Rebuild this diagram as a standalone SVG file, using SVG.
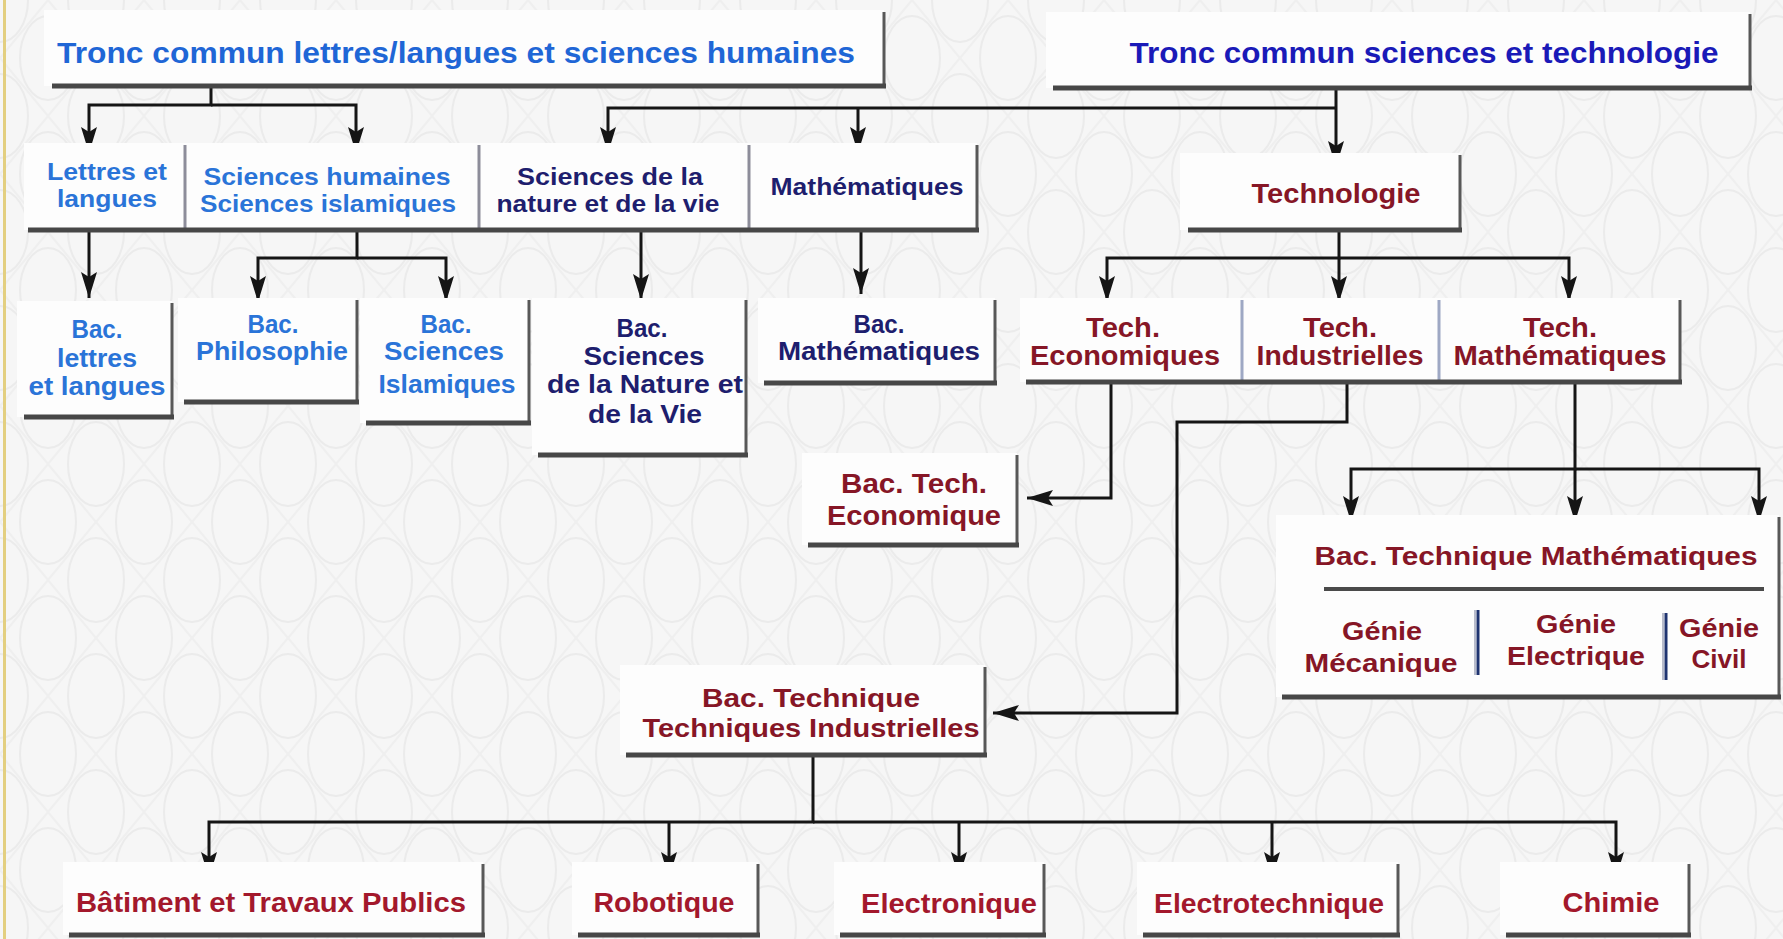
<svg xmlns="http://www.w3.org/2000/svg" width="1783" height="939" viewBox="0 0 1783 939">
<defs>
<pattern id="bg" width="96" height="116" patternUnits="userSpaceOnUse">
<rect width="96" height="116" fill="#f6f6f6"/>
<ellipse cx="48" cy="58" rx="28" ry="42" fill="none" stroke="#ebebeb" stroke-width="2"/>
<ellipse cx="0" cy="0" rx="28" ry="42" fill="none" stroke="#ebebeb" stroke-width="2"/>
<ellipse cx="96" cy="0" rx="28" ry="42" fill="none" stroke="#ebebeb" stroke-width="2"/>
<ellipse cx="0" cy="116" rx="28" ry="42" fill="none" stroke="#ebebeb" stroke-width="2"/>
<ellipse cx="96" cy="116" rx="28" ry="42" fill="none" stroke="#ebebeb" stroke-width="2"/>
<path d="M0 58 L48 0 L96 58 L48 116 Z" fill="none" stroke="#efefef" stroke-width="2"/>
</pattern>
<marker id="ah" markerUnits="userSpaceOnUse" markerWidth="28" markerHeight="16" refX="26" refY="8" orient="auto">
<path d="M0,0 L26,8 L0,16 L5,8 z" fill="#151515"/>
</marker>
</defs>
<style>
.bx{fill:#fdfdfd}
.sr{stroke:#585858;stroke-width:3;fill:none}
.sb{stroke:#474747;stroke-width:5;fill:none}
.dv{stroke:#8d8d9a;stroke-width:3}
.dvb{stroke:#9ea8c4;stroke-width:3}
.dvn{stroke:#1f3470;stroke-width:3}
.c{stroke:#151515;stroke-width:3;fill:none}
.a{marker-end:url(#ah)}
text{font-family:"Liberation Sans",Arial,sans-serif;font-weight:bold;text-anchor:middle}
.tb{fill:#1f66d6;font-size:30px}
.tn{fill:#1a1ab8;font-size:30px}
.lb{fill:#2a74d8}
.nv{fill:#1e1e6e}
.rd{fill:#861626}
.rb{fill:#a3182c;font-size:27px}
.s23{font-size:24px}
.s25{font-size:26px}
.s26{font-size:27px}
</style>
<rect x="0" y="0" width="1783" height="939" fill="url(#bg)"/>
<rect x="3" y="0" width="3" height="939" fill="#e3cf80"/>

<g id="connectors">
<path class="c a" d="M211 86 V105 H89 V153"/>
<path class="c a" d="M211 105 H356 V153"/>
<path class="c a" d="M1336 88 V167"/>
<path class="c a" d="M1336 108 H608 V153"/>
<path class="c a" d="M858 108 V153"/>
<path class="c a" d="M89 230 V298"/>
<path class="c a" d="M357 230 V258 H258 V302"/>
<path class="c a" d="M357 258 H446 V302"/>
<path class="c a" d="M641 230 V300"/>
<path class="c a" d="M861 230 V294"/>
<path class="c a" d="M1339 232 V258 H1107 V302"/>
<path class="c a" d="M1339 258 H1569 V302"/>
<path class="c a" d="M1339 258 V302"/>
<path class="c a" d="M1111 382 V498 H1027"/>
<path class="c a" d="M1347 382 V422 H1177 V713 H993"/>
<path class="c a" d="M1575 382 V469 H1351 V522"/>
<path class="c a" d="M1575 469 H1759 V522"/>
<path class="c a" d="M1575 469 V522"/>
<path class="c a" d="M813 757 V822 H209 V878"/>
<path class="c a" d="M813 822 H1616 V878"/>
<path class="c a" d="M669 822 V878"/>
<path class="c a" d="M959 822 V878"/>
<path class="c a" d="M1272 822 V878"/>
</g>

<g id="tronc-lettres">
<rect class="bx" x="44" y="10" width="840" height="76"/>
<path class="sr" d="M884 12 V86"/><path class="sb" d="M52 86 H886"/>
<text class="tb" x="456" y="63" textLength="798" lengthAdjust="spacingAndGlyphs">Tronc commun lettres/langues et sciences humaines</text>
</g>
<g id="tronc-sciences">
<rect class="bx" x="1046" y="12" width="704" height="76"/>
<path class="sr" d="M1750 14 V88"/><path class="sb" d="M1053 88 H1752"/>
<text class="tn" x="1424" y="63" textLength="589" lengthAdjust="spacingAndGlyphs">Tronc commun sciences et technologie</text>
</g>

<g id="lettres-langues">
<rect class="bx" x="24" y="143" width="161" height="87"/>
<text class="lb s23" x="107" y="180" textLength="120" lengthAdjust="spacingAndGlyphs">Lettres et</text>
<text class="lb s23" x="107" y="207" textLength="100" lengthAdjust="spacingAndGlyphs">langues</text>
</g>
<g id="sciences-humaines">
<rect class="bx" x="185" y="143" width="294" height="87"/>
<text class="lb s23" x="327" y="185" textLength="247" lengthAdjust="spacingAndGlyphs">Sciences humaines</text>
<text class="lb s23" x="328" y="212" textLength="256" lengthAdjust="spacingAndGlyphs">Sciences islamiques</text>
</g>
<g id="sciences-nature">
<rect class="bx" x="479" y="143" width="270" height="87"/>
<text class="nv s23" x="610" y="185" textLength="186" lengthAdjust="spacingAndGlyphs">Sciences de la</text>
<text class="nv s23" x="608" y="212" textLength="223" lengthAdjust="spacingAndGlyphs">nature et de la vie</text>
</g>
<g id="mathematiques">
<rect class="bx" x="749" y="143" width="228" height="87"/>
<text class="nv s23" x="867" y="195" textLength="193" lengthAdjust="spacingAndGlyphs">Mathématiques</text>
</g>
<g id="row1-frame">
<path class="dv" d="M185 145 V228 M479 145 V228 M749 145 V228"/>
<path class="sr" d="M977 145 V230"/><path class="sb" d="M28 230 H979"/>
</g>

<g id="technologie">
<rect class="bx" x="1180" y="153" width="280" height="77"/>
<path class="sr" d="M1460 155 V230"/><path class="sb" d="M1188 230 H1462"/>
<text class="rd s26" x="1336" y="203" textLength="169" lengthAdjust="spacingAndGlyphs">Technologie</text>
</g>

<g id="bac-lettres">
<rect class="bx" x="17" y="301" width="155" height="116"/>
<path class="sr" d="M172 303 V417"/><path class="sb" d="M24 417 H174"/>
<text class="lb s25" x="97" y="338" textLength="51" lengthAdjust="spacingAndGlyphs">Bac.</text>
<text class="lb s25" x="97" y="367" textLength="80" lengthAdjust="spacingAndGlyphs">lettres</text>
<text class="lb s25" x="97" y="395" textLength="137" lengthAdjust="spacingAndGlyphs">et langues</text>
</g>
<g id="bac-philosophie">
<rect class="bx" x="178" y="298" width="179" height="104"/>
<path class="sr" d="M357 300 V402"/><path class="sb" d="M184 402 H359"/>
<text class="lb s25" x="273" y="333" textLength="51" lengthAdjust="spacingAndGlyphs">Bac.</text>
<text class="lb s25" x="272" y="360" textLength="152" lengthAdjust="spacingAndGlyphs">Philosophie</text>
</g>
<g id="bac-sciences-islamiques">
<rect class="bx" x="360" y="298" width="169" height="125"/>
<path class="sr" d="M529 300 V423"/><path class="sb" d="M366 423 H531"/>
<text class="lb s25" x="446" y="333" textLength="51" lengthAdjust="spacingAndGlyphs">Bac.</text>
<text class="lb s25" x="444" y="360" textLength="120" lengthAdjust="spacingAndGlyphs">Sciences</text>
<text class="lb s25" x="447" y="393" textLength="137" lengthAdjust="spacingAndGlyphs">Islamiques</text>
</g>
<g id="bac-snv">
<rect class="bx" x="532" y="298" width="214" height="157"/>
<path class="sr" d="M746 300 V455"/><path class="sb" d="M538 455 H748"/>
<text class="nv s25" x="642" y="337" textLength="51" lengthAdjust="spacingAndGlyphs">Bac.</text>
<text class="nv s25" x="644" y="365" textLength="121" lengthAdjust="spacingAndGlyphs">Sciences</text>
<text class="nv s25" x="645" y="393" textLength="196" lengthAdjust="spacingAndGlyphs">de la Nature et</text>
<text class="nv s25" x="645" y="423" textLength="114" lengthAdjust="spacingAndGlyphs">de la Vie</text>
</g>
<g id="bac-mathematiques">
<rect class="bx" x="758" y="298" width="237" height="85"/>
<path class="sr" d="M995 300 V383"/><path class="sb" d="M764 383 H997"/>
<text class="nv s25" x="879" y="333" textLength="51" lengthAdjust="spacingAndGlyphs">Bac.</text>
<text class="nv s25" x="879" y="360" textLength="202" lengthAdjust="spacingAndGlyphs">Mathématiques</text>
</g>

<g id="tech-economiques">
<rect class="bx" x="1020" y="298" width="222" height="84"/>
<text class="rd s26" x="1123" y="337" textLength="74" lengthAdjust="spacingAndGlyphs">Tech.</text>
<text class="rd s26" x="1125" y="365" textLength="190" lengthAdjust="spacingAndGlyphs">Economiques</text>
</g>
<g id="tech-industrielles">
<rect class="bx" x="1242" y="298" width="197" height="84"/>
<text class="rd s26" x="1340" y="337" textLength="74" lengthAdjust="spacingAndGlyphs">Tech.</text>
<text class="rd s26" x="1340" y="365" textLength="167" lengthAdjust="spacingAndGlyphs">Industrielles</text>
</g>
<g id="tech-mathematiques">
<rect class="bx" x="1439" y="298" width="241" height="84"/>
<text class="rd s26" x="1560" y="337" textLength="74" lengthAdjust="spacingAndGlyphs">Tech.</text>
<text class="rd s26" x="1560" y="365" textLength="213" lengthAdjust="spacingAndGlyphs">Mathématiques</text>
</g>
<g id="tech-row-frame">
<path class="dvb" d="M1242 300 V380 M1439 300 V380"/>
<path class="sr" d="M1680 300 V382"/><path class="sb" d="M1026 382 H1682"/>
</g>

<g id="bac-tech-economique">
<rect class="bx" x="802" y="453" width="215" height="92"/>
<path class="sr" d="M1017 455 V545"/><path class="sb" d="M808 545 H1019"/>
<text class="rd s26" x="914" y="493" textLength="146" lengthAdjust="spacingAndGlyphs">Bac. Tech.</text>
<text class="rd s26" x="914" y="525" textLength="174" lengthAdjust="spacingAndGlyphs">Economique</text>
</g>

<g id="bac-technique-mathematiques">
<rect class="bx" x="1276" y="515" width="503" height="182"/>
<path class="sr" d="M1779 517 V697"/><path class="sb" d="M1282 697 H1781"/>
<path d="M1324 589 H1764" stroke="#4a4a4a" stroke-width="4"/>
<path class="dvn" d="M1478 610 V675 M1666 613 V680"/>
<path d="M1475 610 V675 M1663 613 V680" stroke="#b8bccb" stroke-width="2"/>
<text class="rd s25" x="1536" y="565" textLength="443" lengthAdjust="spacingAndGlyphs">Bac. Technique Mathématiques</text>
<text class="rd s25" x="1382" y="640" textLength="80" lengthAdjust="spacingAndGlyphs">Génie</text>
<text class="rd s25" x="1381" y="672" textLength="153" lengthAdjust="spacingAndGlyphs">Mécanique</text>
<text class="rd s25" x="1576" y="633" textLength="80" lengthAdjust="spacingAndGlyphs">Génie</text>
<text class="rd s25" x="1576" y="665" textLength="138" lengthAdjust="spacingAndGlyphs">Electrique</text>
<text class="rd s25" x="1719" y="637" textLength="80" lengthAdjust="spacingAndGlyphs">Génie</text>
<text class="rd s25" x="1719" y="668" textLength="55" lengthAdjust="spacingAndGlyphs">Civil</text>
</g>

<g id="bac-technique-industrielles">
<rect class="bx" x="620" y="665" width="365" height="90"/>
<path class="sr" d="M985 667 V755"/><path class="sb" d="M626 755 H987"/>
<text class="rd s25" x="811" y="707" textLength="218" lengthAdjust="spacingAndGlyphs">Bac. Technique</text>
<text class="rd s25" x="811" y="737" textLength="337" lengthAdjust="spacingAndGlyphs">Techniques Industrielles</text>
</g>

<g id="batiment">
<rect class="bx" x="63" y="862" width="420" height="73"/>
<path class="sr" d="M483 864 V935"/><path class="sb" d="M69 935 H485"/>
<text class="rb" x="271" y="912" textLength="390" lengthAdjust="spacingAndGlyphs">Bâtiment et Travaux Publics</text>
</g>
<g id="robotique">
<rect class="bx" x="572" y="862" width="186" height="73"/>
<path class="sr" d="M758 864 V935"/><path class="sb" d="M578 935 H760"/>
<text class="rb" x="664" y="912" textLength="141" lengthAdjust="spacingAndGlyphs">Robotique</text>
</g>
<g id="electronique">
<rect class="bx" x="834" y="862" width="210" height="73"/>
<path class="sr" d="M1044 864 V935"/><path class="sb" d="M840 935 H1046"/>
<text class="rb" x="949" y="913" textLength="176" lengthAdjust="spacingAndGlyphs">Electronique</text>
</g>
<g id="electrotechnique">
<rect class="bx" x="1137" y="862" width="261" height="73"/>
<path class="sr" d="M1398 864 V935"/><path class="sb" d="M1143 935 H1400"/>
<text class="rb" x="1269" y="913" textLength="230" lengthAdjust="spacingAndGlyphs">Electrotechnique</text>
</g>
<g id="chimie">
<rect class="bx" x="1500" y="862" width="189" height="73"/>
<path class="sr" d="M1689 864 V935"/><path class="sb" d="M1506 935 H1691"/>
<text class="rb" x="1611" y="912" textLength="97" lengthAdjust="spacingAndGlyphs">Chimie</text>
</g>
</svg>
